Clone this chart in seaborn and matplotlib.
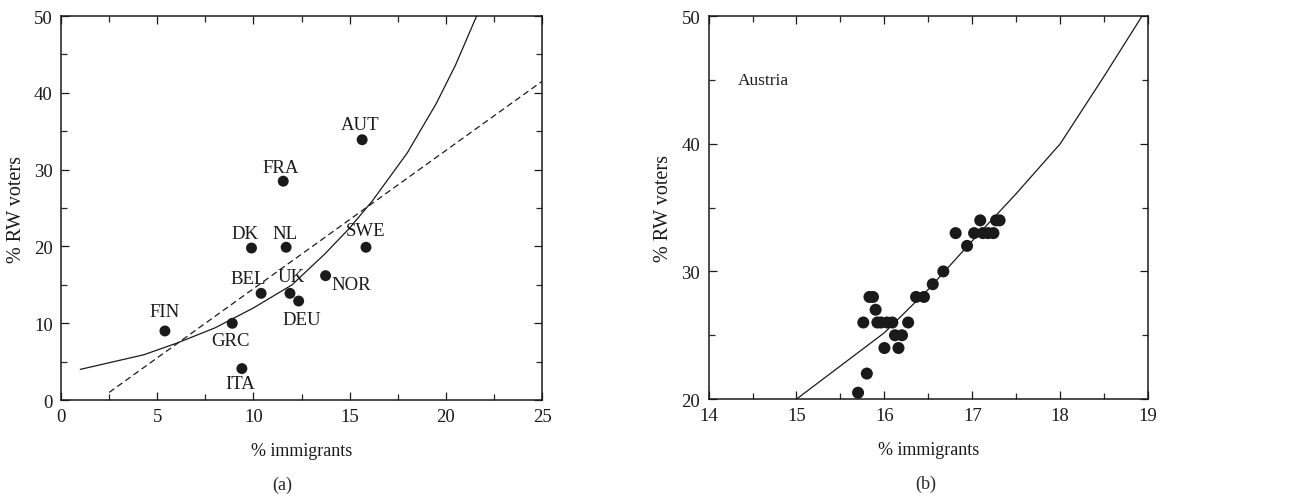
import seaborn as sns
import matplotlib.pyplot as plt
from matplotlib.ticker import MultipleLocator
import pandas as pd

# panel (a): countries
countries = ["FIN", "GRC", "ITA", "DK", "BEL", "FRA", "NL", "UK", "DEU", "NOR", "AUT", "SWE"]
imm_a = [5.4, 8.9, 9.4, 9.9, 10.4, 11.55, 11.7, 11.9, 12.35, 13.75, 15.65, 15.85]
rw_a = [9.0, 10.0, 4.1, 19.8, 13.9, 28.5, 19.9, 13.9, 12.9, 16.2, 33.9, 19.9]
# label offsets in pixels (dx, dy)
lab_dx = [0, -2, -2, -7, -13, -3, -1, 1, 3, 26, -2, 0]
lab_dy = [19, -17, -15, 15, 15, 14, 14, 17, -18, -9, 15, 17]

# solid fit curve
curve_x = [1.0, 4.3, 6.0, 8.0, 10.0, 12.0, 13.7, 15.0, 16.2, 18.0, 19.5, 20.5, 21.6]
curve_y = [4.0, 5.9, 7.4, 9.4, 12.0, 15.0, 19.0, 22.4, 26.0, 32.2, 38.6, 43.6, 50.0]
# dashed linear fit
lin_x = [2.5, 25.0]
lin_y = [1.0, 41.5]

# panel (b): Austria over time
imm_b = [15.70, 15.80, 15.76, 15.83, 15.87, 15.90, 15.92, 15.96, 16.03, 16.09,
         16.27, 16.00, 16.16, 16.12, 16.20, 16.36, 16.45, 16.55, 16.67, 16.81,
         16.94, 17.02, 17.09, 17.12, 17.18, 17.24, 17.27, 17.31]
rw_b = [20.5, 22.0, 26.0, 28.0, 28.0, 27.0, 26.0, 26.0, 26.0, 26.0,
        26.0, 24.0, 24.0, 25.0, 25.0, 28.0, 28.0, 29.0, 30.0, 33.0,
        32.0, 33.0, 34.0, 33.0, 33.0, 33.0, 34.0, 34.0]
curve_bx = [15.0, 15.5, 16.0, 16.5, 17.0, 17.5, 18.0, 18.5, 18.93]
curve_by = [20.0, 22.6, 25.2, 28.6, 32.4, 36.1, 40.0, 45.3, 50.0]

sns.set_style("ticks")
plt.rcParams['font.family'] = ['Liberation Serif', 'DejaVu Serif']
plt.rcParams['xtick.direction'] = 'in'
plt.rcParams['ytick.direction'] = 'in'
plt.rcParams['xtick.top'] = True
plt.rcParams['ytick.right'] = True
plt.rcParams['xtick.minor.visible'] = True
plt.rcParams['ytick.minor.visible'] = True

ink = "#1a1a1a"
fig = plt.figure(figsize=(12.93, 5.02), dpi=100)
ax1 = fig.add_axes([0.0472, 0.201, 0.372, 0.765])
ax2 = fig.add_axes([0.548, 0.203, 0.340, 0.763])

df_a = pd.DataFrame({"imm": imm_a, "rw": rw_a, "c": countries})
sns.lineplot(x=curve_x, y=curve_y, ax=ax1, color=ink, lw=0.9, sort=False)
sns.lineplot(x=lin_x, y=lin_y, ax=ax1, color=ink, lw=0.9, sort=False, linestyle=(0, (5, 3)))
sns.scatterplot(data=df_a, x="imm", y="rw", ax=ax1, color=ink, s=62, edgecolor="none", zorder=3)
for c, x, y, dx, dy in zip(countries, imm_a, rw_a, lab_dx, lab_dy):
    ax1.annotate(c, (x, y), xytext=(dx, dy), textcoords="offset pixels",
                 ha="center", va="center", fontsize=13.5, color=ink)
ax1.set_xlim(0, 25)
ax1.set_ylim(0, 50)
ax1.xaxis.set_major_locator(MultipleLocator(5))
ax1.xaxis.set_minor_locator(MultipleLocator(2.5))
ax1.yaxis.set_major_locator(MultipleLocator(10))
ax1.yaxis.set_minor_locator(MultipleLocator(5))
ax1.text(0.46, -0.22, "(a)", transform=ax1.transAxes, ha="center", va="center", fontsize=13)

df_b = pd.DataFrame({"imm": imm_b, "rw": rw_b})
sns.lineplot(x=curve_bx, y=curve_by, ax=ax2, color=ink, lw=0.9, sort=False)
sns.scatterplot(data=df_b, x="imm", y="rw", ax=ax2, color=ink, s=75, edgecolor="none", zorder=3)
ax2.text(14.33, 45.0, "Austria", ha="left", va="center", fontsize=12.5, color=ink)
ax2.set_xlim(14, 19)
ax2.set_ylim(20, 50)
ax2.xaxis.set_major_locator(MultipleLocator(1))
ax2.xaxis.set_minor_locator(MultipleLocator(0.5))
ax2.yaxis.set_major_locator(MultipleLocator(10))
ax2.yaxis.set_minor_locator(MultipleLocator(5))
ax2.text(0.495, -0.22, "(b)", transform=ax2.transAxes, ha="center", va="center", fontsize=13)

for ax in (ax1, ax2):
    ax.set_xlabel("% immigrants", fontsize=13, color=ink, labelpad=12)
    ax.set_ylabel("% RW voters", fontsize=14.5, color=ink, labelpad=6)
    ax.tick_params(which="major", length=6, width=0.9, labelsize=13.5, colors=ink, pad=6)
    ax.tick_params(which="minor", length=4, width=0.9)
    for sp in ax.spines.values():
        sp.set_linewidth(1.1)
        sp.set_color(ink)

plt.savefig("out.png", dpi=100)
